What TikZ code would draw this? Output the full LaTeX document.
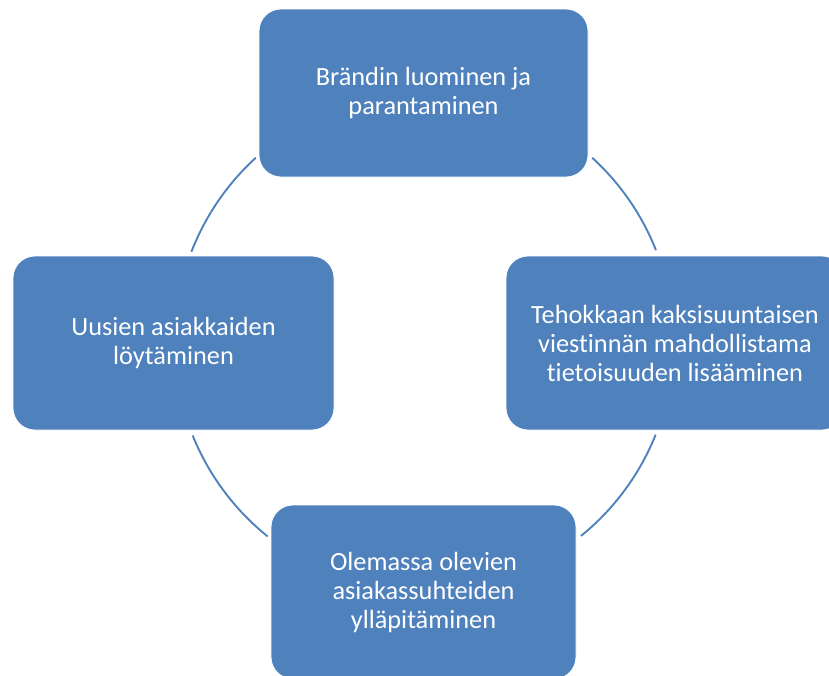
\documentclass[tikz,border=0pt]{standalone}
\usepackage{fontspec}
\setmainfont{Carlito}[Ligatures={NoCommon}]
\definecolor{cyclecol}{HTML}{4F81BD}
\usepackage{tikz}
\usetikzlibrary{calc}

\begin{document}
\begin{tikzpicture}[
  x=1pt, y=-1pt,
  every node/.style={font=\fontsize{26.3}{29}\selectfont},
  stage/.style={rectangle, rounded corners=22pt,
                draw=white, line width=0.8pt, fill=cyclecol,
                text=white, align=center, inner sep=0pt},
  link/.style={draw=cyclecol, line width=1.9pt},
]
\useasboundingbox (0,0) rectangle (829,675);

%% Stages of the cycle
\node[stage, minimum width=329pt, minimum height=168pt] (brand) at (423.5,93)
  {Brändin luominen ja\\parantaminen};
\node[stage, minimum width=338pt, minimum height=174pt] (aware) at (675,343)
  {Tehokkaan kaksisuuntaisen\\viestinnän mahdollistama\\tietoisuuden lisääminen};
\node[stage, minimum width=305pt, minimum height=174pt] (keep)  at (423.5,592)
  {Olemassa olevien\\asiakassuhteiden\\ylläpitäminen};
\node[stage, minimum width=321pt, minimum height=174pt] (find)  at (173.5,343)
  {Uusien asiakkaiden\\löytäminen};

%% Circle pieces between the stages
\coordinate (hub) at (424,342);
\foreach \from/\to in {132.4/158.8, 21.6/47.6, -158/-128.8, -51/-21.8}
  \draw[link] (hub) ++(\from:249.5pt) arc[start angle=\from, end angle=\to, radius=249.5pt];

\end{tikzpicture}
\end{document}
